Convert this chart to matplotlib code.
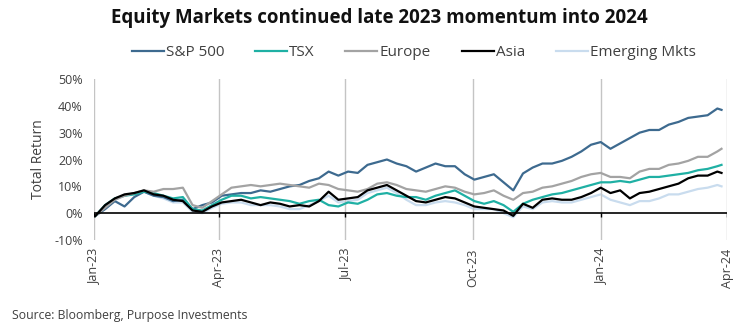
import matplotlib
matplotlib.use("Agg")
import matplotlib.pyplot as plt
import matplotlib.dates as mdates
from matplotlib.ticker import FuncFormatter
import pandas as pd

# Weekly total-return readings (%), Jan 2023 through late Mar 2024
dates = list(pd.date_range("2023-01-02", periods=65, freq="7D")) + [pd.Timestamp("2024-03-28")]

sp500 = [-1, 1.5, 4.5, 2.5, 6, 8, 6.5, 6, 4.5, 5, 1.5, 3, 4, 6.5, 7, 7.5,
         7.5, 8.5, 8, 9, 10, 10.5, 12, 13, 15.5, 14, 15.5, 15, 18, 19, 20, 18.5,
         17.5, 15.5, 17, 18.5, 17.5, 17.5, 14.5, 12.5, 13.5, 14.5, 11.5, 8.5, 14.8, 17,
         18.5, 18.5, 19.5, 21, 23, 25.5, 26.5, 24, 26, 28, 30, 31, 31, 33,
         34, 35.5, 36, 36.5, 39, 38.5]
tsx = [-1, 3, 5.5, 6.5, 7, 8, 7.5, 6.5, 5.5, 6, 1.5, 1, 3, 5, 6.5, 6.5,
       5.5, 6, 5.5, 5, 4.5, 3.5, 4.5, 5, 3, 2.5, 4, 3.5, 5, 7, 7.5, 6.5,
       6, 6, 5, 6.5, 7.5, 8.5, 6.5, 4.5, 3.5, 4.5, 3, 0.5, 3.5, 5,
       6, 7, 7.5, 8.5, 9.5, 10.5, 11.5, 11.5, 12, 11.5, 12.5, 13.5, 13.5, 14,
       14.5, 15, 16, 16.5, 17.5, 18]
europe = [-1, 2, 5, 6.5, 7.5, 8.5, 8, 9, 9, 9.5, 3, 2, 4.5, 7, 9.5, 10,
          10.5, 10, 10.5, 11, 10.5, 10, 9.5, 11, 10.5, 9, 8.5, 8, 9, 11, 11.5, 10.5,
          9, 8.5, 8, 9, 10, 9.5, 8, 7, 7.5, 8.5, 6.5, 5, 7.5, 8,
          9.5, 10, 11, 12, 13.5, 14.5, 15, 13.5, 13.5, 13, 15.5, 16.5, 16.5, 18,
          18.5, 19.5, 21, 21, 23, 24]
asia = [-1, 3, 5.5, 7, 7.5, 8.5, 7, 6.5, 5, 4.5, 1, 0.5, 2.5, 4, 4.5, 5,
        4, 3, 4, 3.5, 2.5, 3, 2.5, 4.5, 8, 5, 5.5, 6, 8.5, 9.5, 10.5, 8.5,
        6.5, 4.5, 4, 5, 6, 5.5, 4, 2.5, 2, 1.5, 1, -1, 3.5, 2,
        5, 5.5, 5, 5, 6, 7.5, 9.5, 7.5, 8.5, 5.5, 7.5, 8, 9, 10,
        11, 13, 14, 14, 15.5, 15]
emerging = [-1, 2.5, 5, 6.5, 7.5, 8, 6.5, 5.5, 4, 4, 0.5, 0, 2, 3.5, 4, 4,
            3, 3, 3, 2.5, 1.5, 1.5, 3, 4.5, 6.5, 4, 4.5, 5, 7.5, 8.5, 9.5, 7.5,
            5, 3, 3, 4, 4.5, 4, 3, 1.5, 1.5, 1.5, 0, -1.5, 2.5, 1.5,
            4, 4.5, 4, 4, 5, 6, 7, 5, 4, 3, 4.5, 4.5, 5.5, 7,
            7, 8, 9, 9.5, 10.5, 10]

series = [
    ("Emerging Mkts", emerging, "#c9dcee", 1),
    ("S&P 500", sp500, "#3d6a8f", 2),
    ("TSX", tsx, "#1fb0a4", 3),
    ("Europe", europe, "#a3a3a3", 4),
    ("Asia", asia, "#000000", 5),
]
legend_order = ["S&P 500", "TSX", "Europe", "Asia", "Emerging Mkts"]

font = "Open Sans"
plt.rcParams["font.family"] = [font, "DejaVu Sans"]

fig = plt.figure(figsize=(7.55, 3.3), dpi=100)
ax = fig.add_axes([0.1245, 0.2727, 0.8385, 0.4879])

handles = {}
for name, vals, color, z in series:
    (ln,) = ax.plot(dates, vals, color=color, lw=1.6, zorder=z, label=name)
    handles[name] = ln

ax.set_ylim(-10, 50)
ax.set_xlim(pd.Timestamp("2023-01-01"), pd.Timestamp("2024-04-01"))
ax.set_yticks(range(-10, 51, 10))
ax.yaxis.set_major_formatter(FuncFormatter(lambda v, p: f"{v:.0f}%"))

ax.xaxis.set_major_locator(mdates.MonthLocator(bymonth=[1, 4, 7, 10]))
ax.xaxis.set_major_formatter(mdates.DateFormatter("%b-%y"))
ax.grid(axis="x", color="#c4c4c4", lw=1.0, zorder=0)
ax.tick_params(axis="x", length=0, pad=6, labelsize=9, labelcolor="#404040", labelrotation=90)
ax.tick_params(axis="y", length=0, pad=8, labelsize=9, labelcolor="#404040")
for s in ax.spines.values():
    s.set_visible(False)

# zero line with short tick marks at each quarter
ax.axhline(0, color="black", lw=1.2, zorder=6)
qticks = ax.get_xticks()
ax.vlines(qticks, -1.3, 0, color="black", lw=1.0, zorder=6)

ax.set_ylabel("Total Return", fontsize=10, color="#404040", labelpad=6)

fig.text(0.503, 0.945, "Equity Markets continued late 2023 momentum into 2024",
         ha="center", va="center", fontsize=13.5, fontweight="bold", color="#111111")

fig.legend([handles[n] for n in legend_order], legend_order, loc="center",
           bbox_to_anchor=(0.548, 0.84), ncol=5, frameon=False, fontsize=11,
           handlelength=2.1, handletextpad=0.15, columnspacing=2.0,
           labelcolor="#404040")

fig.text(0.016, 0.045, "Source: Bloomberg, Purpose Investments", fontsize=8.8,
         color="#404040", ha="left", va="center")

fig.savefig("out.png", dpi=100)
